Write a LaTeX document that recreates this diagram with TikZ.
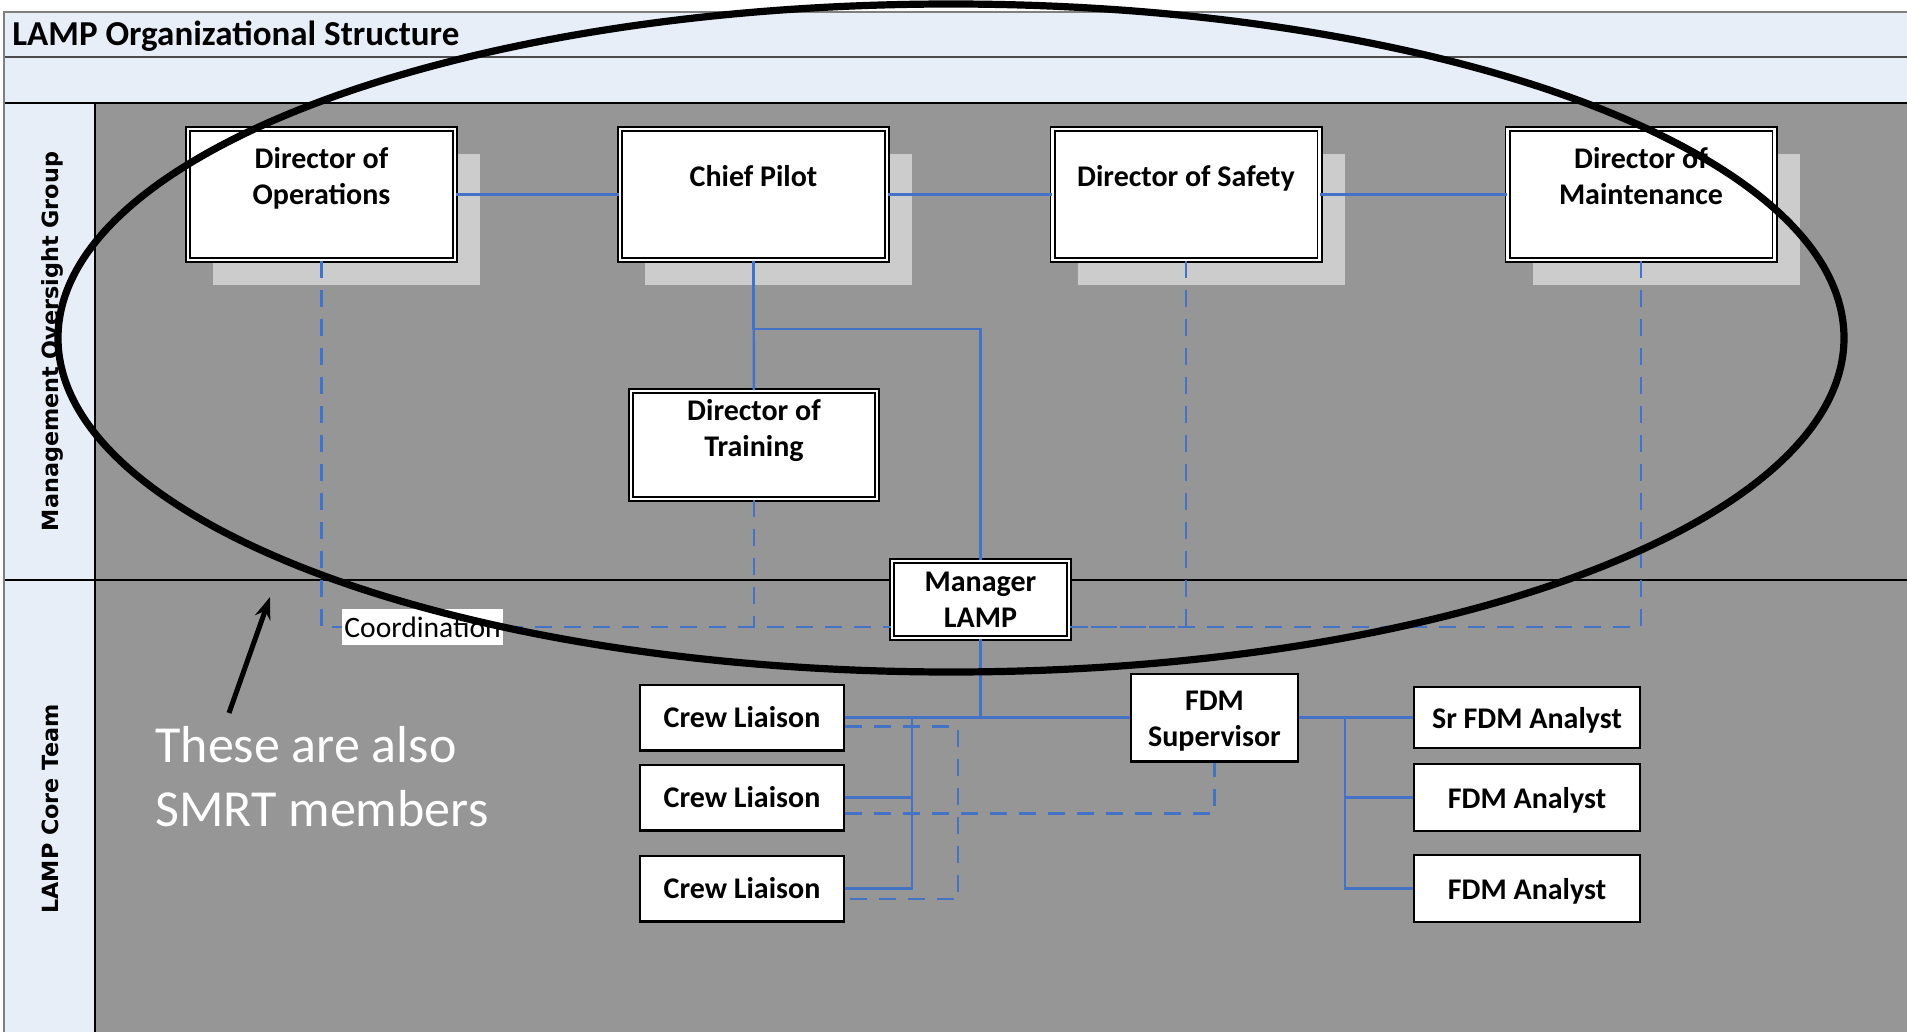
\documentclass[tikz,border=0pt]{standalone}
\usepackage{fontspec}
\setmainfont{Carlito}
\newfontfamily\lanefont{DejaVu Sans}
\usetikzlibrary{shadows,arrows.meta}

\definecolor{bandblue}{RGB}{231,238,248}
\definecolor{lanegrey}{RGB}{150,150,150}
\definecolor{shadowgrey}{RGB}{204,204,204}
\definecolor{linkblue}{RGB}{68,114,196}

\newcommand\boxfont{\bfseries\fontsize{15}{18}\selectfont}
\newcommand\titlefont{\bfseries\fontsize{17.5}{21}\selectfont}
\newcommand\tagfont{\fontsize{14.8}{17}\selectfont}

\tikzset{
  dblbox/.style={draw, double, double distance=1.2pt, line width=0.9pt, fill=white},
  topbox/.style={dblbox, minimum width=133.5pt, minimum height=65.5pt,
    general shadow={fill=shadowgrey, shadow xshift=12.5pt, shadow yshift=-12.5pt}},
  boxtext/.style={anchor=center, align=center, font=\boxfont},
  plainbox/.style={draw, line width=1.2pt, fill=white, font=\boxfont, align=center,
    inner sep=1pt, minimum width=101.8pt, minimum height=32.8pt},
  fdmbox/.style={plainbox, text depth=0pt, minimum width=112.8pt, minimum height=33.3pt},
  link/.style={linkblue, line width=1.2pt},
  dashline/.style={linkblue, line width=1.2pt, dash pattern=on 8.5pt off 6pt},
  lanelabel/.style={rotate=90, font=\lanefont\bfseries\fontsize{11.15}{13}\selectfont},
  tagbox/.style={fill=white, font=\tagfont, inner xsep=1pt, minimum height=18pt},
  notetext/.style={text=white, align=left, inner sep=2pt, font=\fontsize{26}{32}\selectfont}
}

\begin{document}
\begin{tikzpicture}[x=0.5pt,y=-0.5pt]

\useasboundingbox (0,0) rectangle (1907,1032);
\fill[white] (0,0) rectangle (1907,1032);

% Bands and lanes
\fill[bandblue] (4,12) rectangle (1907,103);
\fill[bandblue] (4,103) rectangle (95,1032);
\fill[lanegrey] (95,103) rectangle (1907,1032);
\draw[gray!60!black, line width=1pt] (4,57) -- (1907,57);
\draw[line width=0.8pt] (4,103) -- (1907,103);
\draw[line width=0.6pt] (95,103) -- (95,1032);
\draw[line width=0.6pt] (4,580) -- (1907,580);
\draw[gray, line width=1.2pt] (4,1032) -- (4,12) -- (1907,12);

\node[anchor=base west, inner sep=0, font=\titlefont] (title) at (12,46) {LAMP Organizational Structure};
\node[lanelabel] (mog) at (52,341.5) {Management Oversight Group};
\node[lanelabel] (lct) at (50,809) {LAMP Core Team};

% Management oversight group
\node[topbox, label={[boxtext, yshift=-25pt]north:Director of\\Operations}] (dops) at (321.5,194.5) {};
\node[topbox, label={[boxtext, yshift=-24pt]north:Chief Pilot}] (cp) at (753.5,194.5) {};
\node[topbox, label={[boxtext, yshift=-25pt]north:Director of Safety}] (dsaf) at (1186,194.5) {};
\node[topbox, label={[boxtext, yshift=-24pt]north:Director of\\Maintenance}] (dmnt) at (1641,194.5) {};
\node[dblbox, minimum width=123pt, minimum height=54pt,
  label={[boxtext, yshift=-20pt]north:Director of\\Training}] (dtr) at (754,445) {};
\node[dblbox, font=\boxfont, align=center, inner sep=1pt,
  minimum width=88.5pt, minimum height=38.5pt] (mgr) at (980.5,599.5) {Manager\\LAMP};

% LAMP core team
\node[plainbox] (cl1) at (742,717.5) {Crew Liaison};
\node[plainbox] (cl2) at (742,797.5) {Crew Liaison};
\node[plainbox] (cl3) at (742,888.5) {Crew Liaison};
\node[plainbox, minimum width=83.3pt, minimum height=43.8pt] (fdms) at (1214.5,717.5) {\rule{0pt}{13pt}FDM\\Supervisor};
\node[fdmbox, minimum height=30.3pt] (sra) at (1527,717.5) {Sr FDM Analyst};
\node[fdmbox] (fa1) at (1527,797.5) {FDM Analyst};
\node[fdmbox] (fa2) at (1527,888.5) {FDM Analyst};

% Reporting lines
\draw[link] (dops) -- (cp);
\draw[link] (cp) -- (dsaf);
\draw[link] (dsaf) -- (dmnt);
\draw[link] (cp) -- (dtr);
\draw[link] (cp.south) -- ++(0,68) -| (mgr.north);
\draw[link] (mgr.south) -- (mgr.south |- fdms.west);
\draw[link] (cl1.east) -- (fdms.west);
\coordinate (clbus) at (912,717.5);
\draw[link] (clbus) |- (cl3.east);
\draw[link] (cl2.east) -- (cl2.east -| clbus);
\coordinate (fdmbus) at (1345,717.5);
\draw[link] (fdms.east) -- (sra.west);
\draw[link] (fdmbus) |- (fa2.west);
\draw[link] (fdmbus |- fa1.west) -- (fa1.west);

% Coordination lines
\coordinate (coordl) at ([yshift=-13.75pt]mgr.west);
\coordinate (coordr) at ([yshift=-13.75pt]mgr.east);
\draw[dashline] (dops.south) |- (coordl);
\draw[dashline] (dtr.south) -- (dtr.south |- coordl);
\draw[dashline] (dsaf.south) |- (coordr);
\draw[dashline] (dmnt.south) |- (coordr);
\draw[dashline] ([yshift=-4.5pt]cl1.east) -- ++(113,0) |- ([yshift=-5.25pt]cl3.east);
\draw[dashline] ([yshift=-8pt]cl2.east) -| (fdms.south);

\node[tagbox, anchor=west] (coord) at (342,627) {Coordination};

% SMRT note
\draw[line width=3.6pt] (951,338) ellipse [x radius=893, y radius=334];
\node[notetext, anchor=west] (smrt) at (151,777) {These are also\\SMRT members};
\coordinate (tail) at (229,713);
\coordinate (tip) at (270,597);
\draw[line width=2.5pt, -{Stealth[length=11pt, width=8pt]}] (tail) -- (tip);

\end{tikzpicture}
\end{document}
